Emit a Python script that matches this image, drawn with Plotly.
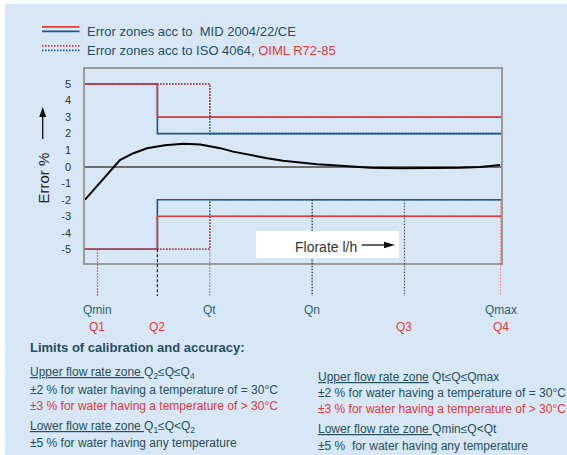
import plotly.graph_objects as go

# ---------------- data ----------------
# flow-rate marks on a relative flow axis (0 .. 100)
q_keys = ["Q1", "Q2", "Qt", "Qn", "Q3", "Q4"]
q_pos = [3.0, 17.4, 30.0, 54.6, 76.8, 100.0]
q_top_labels = ["Qmin", "", "Qt", "Qn", "", "Qmax"]
q_bottom_labels = ["Q1", "Q2", "", "", "Q3", "Q4"]
q_drop_from = [-5, -5, -5, -2, -2, -2]          # error level where the drop line starts

# error limits (%)
lower_zone_limit = [5, 5]        # red, blue  (lower flow-rate zone)
upper_zone_limit = [3, 2]        # red (>30°C), blue (=30°C)

# measured error curve
curve_x = [0, 3.6, 7.2, 8.4, 11.5, 14.9, 19.2, 23.6, 27.7, 32.5, 35.6, 39.7,
           43.8, 47.6, 51.7, 55.8, 59.7, 63.7, 68.6, 75.8, 83.0, 90.2, 95.0, 97.4, 99.8]
curve_y = [-2.0, -0.97, 0.0, 0.4, 0.8, 1.11, 1.3, 1.38, 1.34, 1.12, 0.91, 0.7,
           0.51, 0.36, 0.24, 0.15, 0.08, 0.0, -0.06, -0.1, -0.1, -0.07, -0.02, 0.05, 0.1]

y_ticks = [5, 4, 3, 2, 1, 0, -1, -2, -3, -4, -5]

# ---------------- style ----------------
RED = "#e0393b"
BLUE = "#1b5887"
BG = "#d8e7f5"
TXT = "#1f4e66"
BODY = "#264f5e"
FONT = "Liberation Sans, Arial, sans-serif"
DOT = "1.5px,1.5px"

W, H = 567, 455
ML, MR, MT, MB = 85, 66, 69, 192
PW, PH = W - ML - MR, H - MT - MB
YR = [-5.83, 5.91]


def px(xp):
    return (xp - ML) / PW


def py(yp):
    return (H - MB - yp) / PH


def yfrac(v):
    return (v - YR[0]) / (YR[1] - YR[0])


x0, x_end = 0, 100
q2 = q_pos[q_keys.index("Q2")]
qt = q_pos[q_keys.index("Qt")]

fig = go.Figure()

# zones: blue first, red on top
for step, dash in [(q2, "solid"), (qt, DOT)]:
    for col, lo, up in [(BLUE, lower_zone_limit[1], upper_zone_limit[1]),
                        (RED, lower_zone_limit[0], upper_zone_limit[0])]:
        for sgn in (1, -1):
            fig.add_trace(go.Scatter(
                x=[x0, step, step, x_end],
                y=[sgn * lo, sgn * lo, sgn * up, sgn * up],
                mode="lines", line=dict(color=col, width=1.6, dash=dash),
                hoverinfo="skip", showlegend=False))

# error curve
fig.add_trace(go.Scatter(x=curve_x, y=curve_y, mode="lines",
                         line=dict(color="black", width=2),
                         hoverinfo="skip", showlegend=False))

shapes = []
# background panel (white strip at top / left)
shapes.append(dict(type="rect", xref="paper", yref="paper", layer="below",
                   x0=px(5), x1=px(W + 5), y0=py(4), y1=py(H + 5),
                   fillcolor=BG, line=dict(width=0)))

# drop lines from the zones to the flow labels
drop_colors = [RED, "#222222", "#7a7f88", "#222222", "#555555", RED]
drop_dash = [DOT, "3px,2px", DOT, DOT, DOT, DOT]
for xq, lvl, c, d in zip(q_pos, q_drop_from, drop_colors, drop_dash):
    shapes.append(dict(type="line", xref="x", yref="paper",
                       x0=xq, x1=xq, y0=yfrac(lvl), y1=py(296),
                       line=dict(color=c, width=1.2, dash=d)))

# white box for the flow-rate label
shapes.append(dict(type="rect", xref="paper", yref="paper",
                   x0=px(256), x1=px(399), y0=py(258), y1=py(231),
                   fillcolor="white", line=dict(width=0)))

# legend samples
for yp, c, d in [(26.8, RED, "solid"), (31.3, BLUE, "solid"),
                 (45.9, RED, DOT), (50.3, BLUE, DOT)]:
    shapes.append(dict(type="line", xref="paper", yref="paper",
                       x0=px(42), x1=px(79.5), y0=py(yp), y1=py(yp),
                       line=dict(color=c, width=1.8, dash=d)))


def arrow_shapes(xa, ya, xb, yb, head=10, half=3.5):
    """Line from (xa,ya) to tip (xb,yb) in pixel layout positions, filled head."""
    import math
    L = math.hypot(xb - xa, yb - ya)
    ux, uy = (xb - xa) / L, (yb - ya) / L
    bx, by = xb - ux * head, yb - uy * head
    nx, ny = -uy, ux
    out = [dict(type="line", xref="paper", yref="paper",
                x0=px(xa), y0=py(ya), x1=px(bx + ux), y1=py(by + uy),
                line=dict(color="#111111", width=1.3))]
    pts = [(xb, yb), (bx + nx * half, by + ny * half), (bx - nx * half, by - ny * half)]
    path = "M " + " L ".join("%f,%f" % (px(a), py(b)) for a, b in pts) + " Z"
    out.append(dict(type="path", xref="paper", yref="paper", path=path,
                    fillcolor="#111111", line=dict(width=0)))
    return out


shapes += arrow_shapes(42.7, 139, 42.7, 107)      # Error % arrow
shapes += arrow_shapes(361.5, 245, 395, 245, head=11, half=3.2)   # flow arrow

ann = []


def text(xp, yp, s, size=12, color=BODY, anchor="left", **kw):
    ann.append(dict(xref="paper", yref="paper", x=px(xp), y=py(yp), text=s,
                    showarrow=False, xanchor=anchor, yanchor="middle",
                    font=dict(family=FONT, size=size, color=color), **kw))


# legend texts
text(85.4, 31.5, "Error zones acc to  MID 2004/22/CE", 13, TXT)
text(85.4, 50.5, "Error zones acc to ISO 4064, <span style='color:%s'>OIML R72-85</span>" % RED, 13, TXT)

# y-axis title
text(42.5, 178, "Error %", 15, "#222222", anchor="center", textangle=-90)

# flow-rate label
text(292.5, 247, "Florate l/h", 14, "#333333")

# Q labels
for xq, t1, t2 in zip(q_pos, q_top_labels, q_bottom_labels):
    if t1:
        ann.append(dict(xref="x", yref="paper", x=xq, y=py(310), text=t1,
                        showarrow=False, xanchor="center", yanchor="middle",
                        font=dict(family=FONT, size=12, color="#2f5f70")))
    if t2:
        ann.append(dict(xref="x", yref="paper", x=xq, y=py(327), text=t2,
                        showarrow=False, xanchor="center", yanchor="middle",
                        font=dict(family=FONT, size=12, color=RED)))

U = "<span style='text-decoration:underline'>%s</span>"
# left column
text(28, 347, "<b>Limits of calibration and accuracy:</b>", 13, BODY)
text(28, 372.7, U % "Upper flow rate zone " + "Q<sub>2</sub>≤Q≤Q<sub>4</sub>", 12)
text(28, 390, "±2 % for water having a temperature of = 30°C", 12)
text(28, 406, "±3 % for water having a temperature of &gt; 30°C", 12, RED)
text(28, 426.7, U % "Lower flow rate zone " + "Q<sub>1</sub>≤Q&lt;Q<sub>2</sub>", 12)
text(28, 443, "±5 % for water having any temperature", 12)
# right column
text(316, 376.7, U % "Upper flow rate zone" + " Qt≤Q≤Qmax", 12)
text(316, 392.7, "±2 % for water having a temperature of = 30°C", 12)
text(316, 409.3, "±3 % for water having a temperature of &gt; 30°C", 12, RED)
text(316, 429.3, U % "Lower flow rate zone " + "Qmin≤Q&lt;Qt", 12)
text(316, 446, "±5 %  for water having any temperature", 12)

fig.update_layout(
    width=W, height=H,
    margin=dict(l=ML, r=MR, t=MT, b=MB),
    paper_bgcolor="white", plot_bgcolor="rgba(0,0,0,0)",
    shapes=shapes, annotations=ann, showlegend=False,
    xaxis=dict(range=[x0, x_end], showticklabels=False, ticks="", showgrid=False,
               zeroline=False, showline=True, mirror=True, linecolor="#9a9a9a",
               linewidth=1.5, fixedrange=True),
    yaxis=dict(range=YR, tickvals=y_ticks, ticktext=[str(v) for v in y_ticks],
               ticks="", showgrid=False, zeroline=True, zerolinecolor="#6e6e6e",
               zerolinewidth=1.5, showline=True, mirror=True, linecolor="#9a9a9a",
               linewidth=1.5, ticklabelstandoff=10,
               tickfont=dict(family=FONT, size=11, color="#333333"), fixedrange=True),
)

fig.write_html("out.html", config={"displayModeBar": False},
               post_script="document.body.style.margin='0';document.body.style.overflow='hidden';")
